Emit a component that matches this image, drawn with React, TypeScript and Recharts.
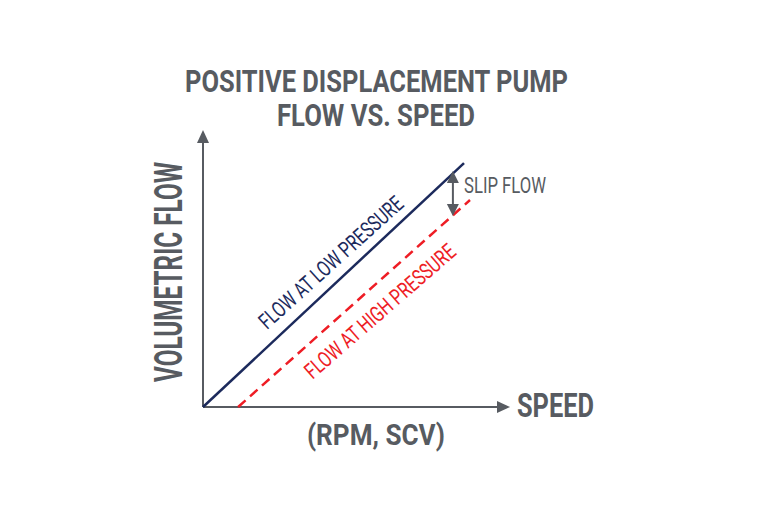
import { LineChart, Line, XAxis, YAxis, ReferenceDot, ReferenceLine } from "recharts";

// flow vs speed, same units on both axes
const lowPressure = [
  { speed: 0, flow: 0 },
  { speed: 87, flow: 81.3 },
];
const highPressure = [
  { speed: 11.7, flow: 0 },
  { speed: 89, flow: 69 },
];
const slipFlow = [
  { x: 83.3, y: 76.7 },
  { x: 83.3, y: 65.7 },
];
const xDomain = [0, 100];
const yDomain = [0, 90];

const titleLines = ["POSITIVE DISPLACEMENT PUMP", "FLOW VS. SPEED"];
const xLabel = "SPEED";
const xUnits = "(RPM, SCV)";
const yLabel = "VOLUMETRIC FLOW";
const lowLabel = "FLOW AT LOW PRESSURE";
const highLabel = "FLOW AT HIGH PRESSURE";
const slipLabel = "SLIP FLOW";

const GRAY = "#575b61";
const NAVY = "#1c2a5c";
const RED = "#ee1d25";
const FONT = "Roboto, 'DejaVu Sans', sans-serif";

const tri = (dir: "up" | "down" | "right", size = 6, len = 13) =>
  (p: any) => {
    const { cx, cy } = p;
    let pts = "";
    if (dir === "right") pts = `${cx - 6},${cy - size} ${cx + len - 6},${cy} ${cx - 6},${cy + size}`;
    if (dir === "up") pts = `${cx - size},${cy + 6} ${cx},${cy - len + 6} ${cx + size},${cy + 6}`;
    if (dir === "down") pts = `${cx - size},${cy - 6} ${cx},${cy + len - 6} ${cx + size},${cy - 6}`;
    return <polygon points={pts} fill={GRAY} />;
  };

export default function App() {
  return (
    <div style={{ position: "absolute", left: 0, top: 0, width: 768, height: 512, background: "#fff" }}>
      <LineChart width={768} height={512} margin={{ top: 137, right: 265, bottom: 105, left: 203 }}>
        <XAxis type="number" dataKey="speed" domain={xDomain} hide />
        <YAxis type="number" domain={yDomain} hide />
        <ReferenceLine
          segment={[{ x: xDomain[0], y: yDomain[0] }, { x: xDomain[1], y: yDomain[0] }]}
          stroke={GRAY}
          strokeWidth={2}
          ifOverflow="visible"
        />
        <ReferenceLine
          segment={[{ x: xDomain[0], y: yDomain[0] }, { x: xDomain[0], y: yDomain[1] }]}
          stroke={GRAY}
          strokeWidth={2}
          ifOverflow="visible"
        />
        <Line
          data={lowPressure}
          dataKey="flow"
          type="linear"
          stroke={NAVY}
          strokeWidth={2.5}
          dot={false}
          isAnimationActive={false}
        />
        <Line
          data={highPressure}
          dataKey="flow"
          type="linear"
          stroke={RED}
          strokeWidth={2.5}
          strokeDasharray="10 6"
          dot={false}
          isAnimationActive={false}
        />
        <ReferenceLine segment={slipFlow} stroke={GRAY} strokeWidth={2} ifOverflow="visible" />
        <ReferenceDot x={xDomain[1]} y={yDomain[0]} ifOverflow="visible" shape={tri("right")} />
        <ReferenceDot x={xDomain[0]} y={yDomain[1]} ifOverflow="visible" shape={tri("up")} />
        <ReferenceDot x={slipFlow[0].x} y={slipFlow[0].y} ifOverflow="visible" shape={tri("up", 6, 12)} />
        <ReferenceDot x={slipFlow[1].x} y={slipFlow[1].y} ifOverflow="visible" shape={tri("down", 6, 12)} />
      </LineChart>
      <svg
        width={768}
        height={512}
        style={{ position: "absolute", left: 0, top: 0, pointerEvents: "none" }}
        fontFamily={FONT}
      >
        <text x={376.5} y={92} textAnchor="middle" fontSize={32} fontWeight={700} fill={GRAY}
          textLength={383} lengthAdjust="spacingAndGlyphs">{titleLines[0]}</text>
        <text x={376} y={126} textAnchor="middle" fontSize={32} fontWeight={700} fill={GRAY}
          textLength={198} lengthAdjust="spacingAndGlyphs">{titleLines[1]}</text>
        <text x={517} y={417} fontSize={34} fontWeight={700} fill={GRAY}
          textLength={77} lengthAdjust="spacingAndGlyphs">{xLabel}</text>
        <text x={376} y={445} textAnchor="middle" fontSize={30} fontWeight={700} fill={GRAY}
          textLength={138} lengthAdjust="spacingAndGlyphs">{xUnits}</text>
        <text transform="translate(182,272) rotate(-90)" textAnchor="middle" fontSize={38} fontWeight={700} fill={GRAY}
          textLength={220} lengthAdjust="spacingAndGlyphs">{yLabel}</text>
        <text x={464} y={193} fontSize={22} fill={GRAY}
          textLength={82} lengthAdjust="spacingAndGlyphs">{slipLabel}</text>
        <text transform="translate(336,268) rotate(-42)" textAnchor="middle" fontSize={22} fill={NAVY}
          textLength={186} lengthAdjust="spacingAndGlyphs">{lowLabel}</text>
        <text transform="translate(385,317) rotate(-41)" textAnchor="middle" fontSize={22} fill={RED}
          textLength={192} lengthAdjust="spacingAndGlyphs">{highLabel}</text>
      </svg>
    </div>
  );
}
